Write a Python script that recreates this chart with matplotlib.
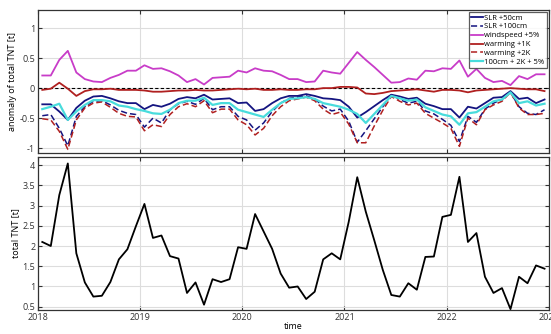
import matplotlib

matplotlib.use('Agg')
import matplotlib.pyplot as plt
import numpy as np

plt.rcParams['font.family'] = ['Open Sans', 'DejaVu Sans']

# monthly time axis (mid-month, decimal years)
months = np.arange(60)
t = 2018 + (months + 0.5) / 12.0

slr50 = [-0.27, -0.27, -0.39, -0.53, -0.33, -0.21, -0.14, -0.13, -0.17, -0.22, -0.25, -0.25,
         -0.35, -0.28, -0.31, -0.26, -0.18, -0.15, -0.17, -0.11, -0.19, -0.18, -0.17, -0.25,
         -0.24, -0.38, -0.35, -0.25, -0.17, -0.13, -0.13, -0.10, -0.13, -0.17, -0.18, -0.20,
         -0.31, -0.49, -0.40, -0.30, -0.20, -0.11, -0.14, -0.18, -0.16, -0.26, -0.30, -0.35,
         -0.35, -0.49, -0.31, -0.34, -0.25, -0.16, -0.15, -0.05, -0.18, -0.16, -0.25, -0.19]
slr100 = [-0.46, -0.44, -0.67, -0.96, -0.47, -0.31, -0.22, -0.21, -0.28, -0.37, -0.42, -0.44,
          -0.65, -0.50, -0.58, -0.36, -0.26, -0.22, -0.27, -0.17, -0.36, -0.31, -0.31, -0.47,
          -0.53, -0.70, -0.58, -0.39, -0.25, -0.17, -0.15, -0.13, -0.18, -0.30, -0.38, -0.35,
          -0.55, -0.90, -0.71, -0.51, -0.31, -0.11, -0.19, -0.25, -0.22, -0.38, -0.43, -0.52,
          -0.62, -0.89, -0.47, -0.57, -0.35, -0.25, -0.19, -0.07, -0.31, -0.42, -0.44, -0.36]
wind5 = [0.21, 0.21, 0.47, 0.62, 0.26, 0.15, 0.11, 0.10, 0.17, 0.22, 0.29, 0.29,
         0.38, 0.32, 0.33, 0.28, 0.21, 0.10, 0.15, 0.06, 0.17, 0.18, 0.19, 0.29,
         0.26, 0.33, 0.29, 0.28, 0.22, 0.15, 0.15, 0.10, 0.11, 0.29, 0.26, 0.24,
         0.42, 0.60, 0.47, 0.35, 0.22, 0.09, 0.10, 0.16, 0.14, 0.29, 0.28, 0.33,
         0.32, 0.46, 0.19, 0.32, 0.17, 0.10, 0.12, 0.05, 0.20, 0.15, 0.23, 0.23]
warm1 = [-0.03, -0.01, 0.09, -0.01, -0.13, -0.05, -0.02, -0.02, -0.01, -0.03, -0.03, -0.03,
         -0.04, -0.06, -0.06, -0.05, -0.04, -0.04, -0.03, -0.04, -0.04, -0.03, -0.02, -0.01,
         -0.02, -0.01, -0.03, -0.03, -0.02, -0.03, -0.03, -0.02, -0.02, 0.00, 0.00, 0.02,
         0.02, 0.01, -0.09, -0.10, -0.08, -0.05, -0.04, -0.03, -0.02, -0.04, -0.06, -0.03,
         -0.03, -0.04, -0.07, -0.04, -0.03, -0.02, -0.01, 0.00, -0.01, -0.02, -0.02, -0.05]
warm2 = [-0.51, -0.53, -0.72, -1.02, -0.53, -0.33, -0.25, -0.23, -0.32, -0.42, -0.47, -0.48,
         -0.71, -0.61, -0.64, -0.44, -0.31, -0.26, -0.31, -0.21, -0.41, -0.35, -0.35, -0.53,
         -0.61, -0.78, -0.67, -0.46, -0.31, -0.21, -0.18, -0.15, -0.21, -0.35, -0.44, -0.40,
         -0.60, -0.91, -0.91, -0.63, -0.37, -0.14, -0.22, -0.28, -0.25, -0.42, -0.50, -0.58,
         -0.67, -0.97, -0.50, -0.61, -0.36, -0.28, -0.22, -0.07, -0.33, -0.44, -0.44, -0.42]
combo = [-0.35, -0.31, -0.26, -0.53, -0.39, -0.28, -0.20, -0.20, -0.22, -0.29, -0.31, -0.35,
         -0.38, -0.42, -0.43, -0.36, -0.25, -0.21, -0.21, -0.16, -0.28, -0.25, -0.25, -0.36,
         -0.40, -0.44, -0.48, -0.36, -0.25, -0.18, -0.17, -0.15, -0.18, -0.25, -0.28, -0.31,
         -0.36, -0.43, -0.58, -0.43, -0.28, -0.13, -0.17, -0.21, -0.19, -0.32, -0.38, -0.44,
         -0.47, -0.61, -0.42, -0.40, -0.31, -0.22, -0.19, -0.07, -0.25, -0.22, -0.29, -0.26]

total = [2.10, 2.00, 3.26, 4.04, 1.82, 1.10, 0.75, 0.77, 1.11, 1.67, 1.92, 2.49,
         3.04, 2.20, 2.26, 1.75, 1.69, 0.84, 1.10, 0.55, 1.18, 1.11, 1.18, 1.97,
         1.93, 2.79, 2.36, 1.93, 1.32, 0.97, 1.00, 0.69, 0.87, 1.67, 1.82, 1.67,
         2.60, 3.70, 2.85, 2.14, 1.41, 0.79, 0.75, 1.08, 0.92, 1.73, 1.74, 2.72,
         2.77, 3.71, 2.10, 2.32, 1.24, 0.84, 0.96, 0.44, 1.24, 1.08, 1.52, 1.44]

years = [2018, 2019, 2020, 2021, 2022, 2023]

navy = '#141480'
magenta = '#c83cc8'
darkred = '#b02020'
cyan = '#48dcdc'
fs = 6.5

fig = plt.figure(figsize=(5.51, 3.34), dpi=100)
ax1 = fig.add_axes([0.069, 0.542, 0.927, 0.428])
ax2 = fig.add_axes([0.069, 0.072, 0.927, 0.458])

ax1.axhline(0, color='black', lw=0.8, ls=(0, (3, 2)), zorder=2)
ax1.plot(t, slr50, color=navy, lw=1.3, label='SLR +50cm', zorder=3)
ax1.plot(t, slr100, color=navy, lw=1.1, ls=(0, (4, 2)), label='SLR +100cm', zorder=3)
ax1.plot(t, wind5, color=magenta, lw=1.3, label='windspeed +5%', zorder=3)
ax1.plot(t, warm1, color=darkred, lw=1.3, label='warming +1K', zorder=3)
ax1.plot(t, warm2, color=darkred, lw=1.1, ls=(0, (4, 2)), label='warming +2K', zorder=3)
ax1.plot(t, combo, color=cyan, lw=1.6, label='100cm + 2K + 5%', zorder=3)

ax1.set_ylim(-1.08, 1.3)
ax1.set_yticks([-1, -0.5, 0, 0.5, 1])
ax1.set_yticklabels(['-1', '-0.5', '0', '0.5', '1'])
ax1.set_ylabel('anomaly of total TNT [t]', fontsize=fs, labelpad=2)
ax1.set_xticklabels([])

leg = ax1.legend(loc='upper right', fontsize=5.5, frameon=True, fancybox=False,
                 handlelength=1.5, handletextpad=0.2, labelspacing=0.2,
                 borderpad=0.3, borderaxespad=0.25)
leg.get_frame().set_edgecolor('#333333')
leg.get_frame().set_linewidth(0.9)

ax2.plot(t, total, color='black', lw=1.3)
ax2.set_ylim(0.42, 4.2)
ax2.set_yticks([0.5, 1, 1.5, 2, 2.5, 3, 3.5, 4])
ax2.set_yticklabels(['0.5', '1', '1.5', '2', '2.5', '3', '3.5', '4'])
ax2.set_ylabel('total TNT [t]', fontsize=fs, labelpad=2)
ax2.set_xlabel('time', fontsize=fs, labelpad=0.5)

for ax in (ax1, ax2):
    ax.set_xlim(2018, 2023)
    ax.set_xticks(years)
    ax.grid(True, color='#dddddd', lw=0.8)
    ax.set_axisbelow(True)
    ax.tick_params(direction='in', length=3, width=0.8, labelsize=fs,
                   top=True, right=True, colors='#333333', pad=2)
    for s in ax.spines.values():
        s.set_color('#333333')
        s.set_linewidth(0.9)

ax2.set_xticklabels([str(y) for y in years])

fig.savefig('out.png', dpi=100)
